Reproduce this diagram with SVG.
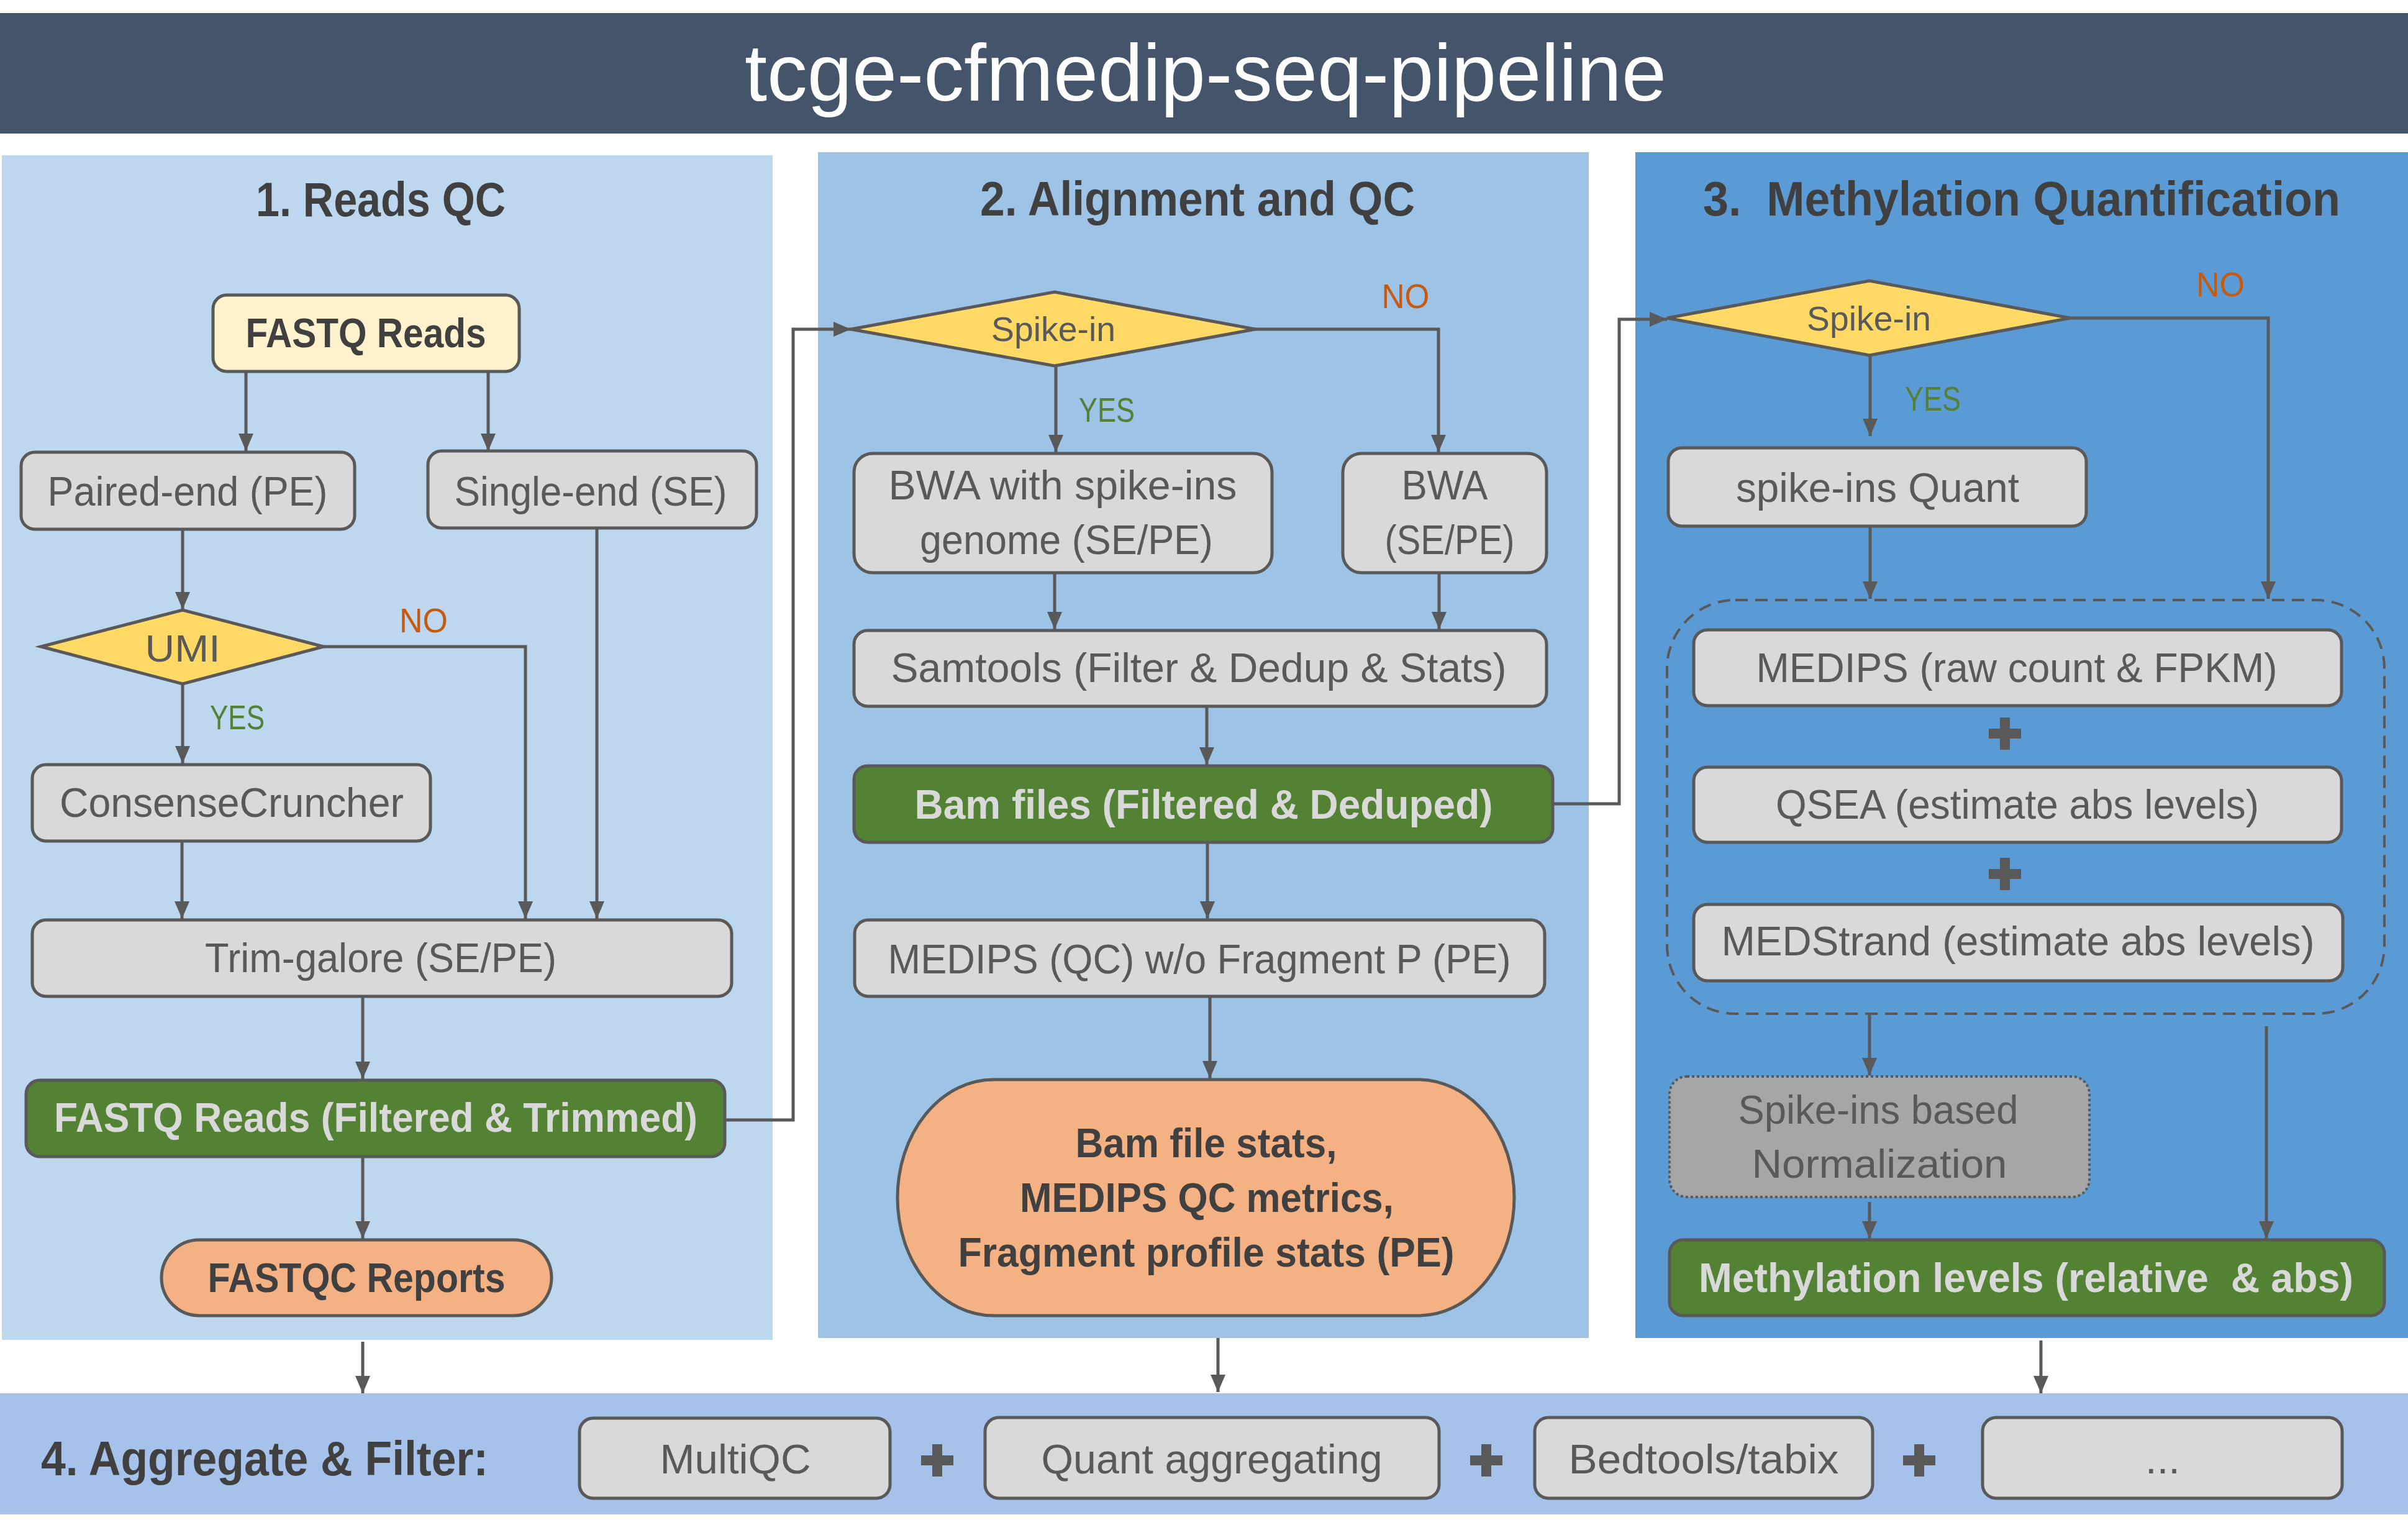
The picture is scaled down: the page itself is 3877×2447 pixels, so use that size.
<svg xmlns="http://www.w3.org/2000/svg" width="3877" height="2447" viewBox="0 0 3877 2447">
<style>
text{font-family:"Liberation Sans",Arial,sans-serif;text-anchor:middle}
.t{font-size:67px;fill:#595959}
.b{font-size:66px;font-weight:bold;fill:#404040}
.bl{font-size:66px;font-weight:bold;fill:#D9D9D9}
.h{font-size:78px;font-weight:bold;fill:#404040}
.no{font-size:56px;fill:#C55A11}
.yes{font-size:56px;fill:#538135}
.box{fill:#D9D9D9;stroke:#595959;stroke-width:5}
.grn{fill:#548235;stroke:#595959;stroke-width:5}
.org{fill:#F4B183;stroke:#595959;stroke-width:5}
.dia{fill:#FFD966;stroke:#595959;stroke-width:5}
.c{fill:none;stroke:#595959;stroke-width:5}
.plus{fill:#595959}
</style>
<defs>
<marker id="ah" markerUnits="userSpaceOnUse" markerWidth="28" markerHeight="24" refX="28" refY="12" orient="auto">
<path d="M0,0 L28,12 L0,24 z" fill="#595959"/>
</marker>
</defs>

<rect x="0" y="21" width="3877" height="194" fill="#44546A"/>
<text x="1941" y="162" style="font-size:130px;fill:#FFFFFF" textLength="1484" lengthAdjust="spacingAndGlyphs">tcge-cfmedip-seq-pipeline</text>

<g id="panels">
<rect x="3" y="250" width="1241" height="1907" fill="#BDD7EE"/>
<rect x="1317" y="245" width="1241" height="1909" fill="#9DC3E6"/>
<rect x="2633" y="245" width="1244" height="1909" fill="#5B9BD5"/>
<rect x="0" y="2243" width="3877" height="195" fill="#A6C2EB"/>
<text class="h" x="613" y="348" textLength="402" lengthAdjust="spacingAndGlyphs">1. Reads QC</text>
<text class="h" x="1928" y="347" textLength="700" lengthAdjust="spacingAndGlyphs">2. Alignment and QC</text>
<text class="h" x="3255" y="347" textLength="1026" lengthAdjust="spacingAndGlyphs" xml:space="preserve">3.  Methylation Quantification</text>
<text class="h" x="426" y="2375" textLength="720" lengthAdjust="spacingAndGlyphs">4. Aggregate &amp; Filter:</text>
</g>

<g id="connectors">
<path class="c" d="M396,598 V726" marker-end="url(#ah)"/>
<path class="c" d="M786,598 V726" marker-end="url(#ah)"/>
<path class="c" d="M294,852 V981" marker-end="url(#ah)"/>
<path class="c" d="M294,1101 V1229" marker-end="url(#ah)"/>
<path class="c" d="M521,1041 H846 V1479" marker-end="url(#ah)"/>
<path class="c" d="M961,850 V1479" marker-end="url(#ah)"/>
<path class="c" d="M293,1354 V1479" marker-end="url(#ah)"/>
<path class="c" d="M584,1604 V1737" marker-end="url(#ah)"/>
<path class="c" d="M584,1862 V1994" marker-end="url(#ah)"/>
<path class="c" d="M1167,1803 H1277 V530 H1370" marker-end="url(#ah)"/>
<path class="c" d="M584,2160 V2243" marker-end="url(#ah)"/>
<path class="c" d="M1700,589 V728" marker-end="url(#ah)"/>
<path class="c" d="M2021,530 H2316 V728" marker-end="url(#ah)"/>
<path class="c" d="M1698,922 V1013" marker-end="url(#ah)"/>
<path class="c" d="M2317,922 V1013" marker-end="url(#ah)"/>
<path class="c" d="M1943,1137 V1231" marker-end="url(#ah)"/>
<path class="c" d="M1944,1356 V1479" marker-end="url(#ah)"/>
<path class="c" d="M1948,1604 V1736" marker-end="url(#ah)"/>
<path class="c" d="M2500,1294 H2607 V514 H2684" marker-end="url(#ah)"/>
<path class="c" d="M1961,2154 V2241" marker-end="url(#ah)"/>
<path class="c" d="M3011,572 V702" marker-end="url(#ah)"/>
<path class="c" d="M3333,512 H3652 V964" marker-end="url(#ah)"/>
<path class="c" d="M3011,847 V964" marker-end="url(#ah)"/>
<path class="c" d="M3010,1632 V1731" marker-end="url(#ah)"/>
<path class="c" d="M3649,1652 V1994" marker-end="url(#ah)"/>
<path class="c" d="M3010,1935 V1994" marker-end="url(#ah)"/>
<path class="c" d="M3286,2158 V2243" marker-end="url(#ah)"/>
<text class="no" x="682" y="1018" textLength="78" lengthAdjust="spacingAndGlyphs">NO</text>
<text class="yes" x="382" y="1174" textLength="88" lengthAdjust="spacingAndGlyphs">YES</text>
<text class="no" x="2263" y="496" textLength="77" lengthAdjust="spacingAndGlyphs">NO</text>
<text class="yes" x="1782" y="679" textLength="90" lengthAdjust="spacingAndGlyphs">YES</text>
<text class="no" x="3575" y="477" textLength="78" lengthAdjust="spacingAndGlyphs">NO</text>
<text class="yes" x="3112" y="661" textLength="90" lengthAdjust="spacingAndGlyphs">YES</text>
</g>

<g id="fastq_reads">
<rect x="343" y="475" width="493" height="123" rx="22" fill="#FFF2CC" stroke="#595959" stroke-width="5"/>
<text class="b" x="589" y="559" textLength="387" lengthAdjust="spacingAndGlyphs">FASTQ Reads</text>
</g>
<g id="paired_end">
<rect class="box" x="34" y="728" width="537" height="124" rx="22"/>
<text class="t" x="302" y="814" textLength="451" lengthAdjust="spacingAndGlyphs">Paired-end (PE)</text>
</g>
<g id="single_end">
<rect class="box" x="689" y="726" width="529" height="124" rx="22"/>
<text class="t" x="951" y="814" textLength="439" lengthAdjust="spacingAndGlyphs">Single-end (SE)</text>
</g>
<g id="umi">
<polygon class="dia" points="66,1041 294,982 521,1041 294,1101"/>
<text class="t" x="294" y="1065" style="font-size:62px" textLength="121" lengthAdjust="spacingAndGlyphs">UMI</text>
</g>
<g id="consensecruncher">
<rect class="box" x="52" y="1231" width="641" height="123" rx="22"/>
<text class="t" x="373" y="1315" textLength="554" lengthAdjust="spacingAndGlyphs">ConsenseCruncher</text>
</g>
<g id="trim_galore">
<rect class="box" x="52" y="1481" width="1126" height="123" rx="22"/>
<text class="t" x="613" y="1565" textLength="566" lengthAdjust="spacingAndGlyphs">Trim-galore (SE/PE)</text>
</g>
<g id="fastq_filtered">
<rect class="grn" x="42" y="1739" width="1125" height="123" rx="22"/>
<text class="bl" x="605" y="1822" textLength="1036" lengthAdjust="spacingAndGlyphs">FASTQ Reads (Filtered &amp; Trimmed)</text>
</g>
<g id="fastqc_reports">
<rect class="org" x="260" y="1996" width="628" height="122" rx="61"/>
<text class="b" x="574" y="2080" textLength="479" lengthAdjust="spacingAndGlyphs">FASTQC Reports</text>
</g>

<g id="spike_in_2">
<polygon class="dia" points="1370,530 1698,470 2021,530 1698,589"/>
<text class="t" x="1696" y="549" style="font-size:56px" textLength="200" lengthAdjust="spacingAndGlyphs">Spike-in</text>
</g>
<g id="bwa_spike">
<rect class="box" x="1375" y="730" width="673" height="192" rx="30"/>
<text class="t" x="1711" y="804" textLength="561" lengthAdjust="spacingAndGlyphs">BWA with spike-ins</text>
<text class="t" x="1717" y="892" textLength="472" lengthAdjust="spacingAndGlyphs">genome (SE/PE)</text>
</g>
<g id="bwa">
<rect class="box" x="2162" y="730" width="328" height="192" rx="30"/>
<text class="t" x="2326" y="804" textLength="139" lengthAdjust="spacingAndGlyphs">BWA</text>
<text class="t" x="2334" y="892" textLength="209" lengthAdjust="spacingAndGlyphs">(SE/PE)</text>
</g>
<g id="samtools">
<rect class="box" x="1375" y="1015" width="1115" height="122" rx="22"/>
<text class="t" x="1930" y="1098" textLength="991" lengthAdjust="spacingAndGlyphs">Samtools (Filter &amp; Dedup &amp; Stats)</text>
</g>
<g id="bam_files">
<rect class="grn" x="1375" y="1233" width="1125" height="123" rx="22"/>
<text class="bl" x="1938" y="1318" textLength="931" lengthAdjust="spacingAndGlyphs">Bam files (Filtered &amp; Deduped)</text>
</g>
<g id="medips_qc">
<rect class="box" x="1376" y="1481" width="1111" height="123" rx="22"/>
<text class="t" x="1931" y="1567" textLength="1003" lengthAdjust="spacingAndGlyphs">MEDIPS (QC) w/o Fragment P (PE)</text>
</g>
<g id="bam_stats">
<rect class="org" x="1445" y="1738" width="993" height="380" rx="155" ry="190"/>
<text class="b" x="1942" y="1863" textLength="421" lengthAdjust="spacingAndGlyphs">Bam file stats,</text>
<text class="b" x="1943" y="1951" textLength="602" lengthAdjust="spacingAndGlyphs">MEDIPS QC metrics,</text>
<text class="b" x="1942" y="2039" textLength="799" lengthAdjust="spacingAndGlyphs">Fragment profile stats (PE)</text>
</g>

<g id="spike_in_3">
<polygon class="dia" points="2684,512 3010,452 3333,512 3010,572"/>
<text class="t" x="3009" y="532" style="font-size:56px" textLength="200" lengthAdjust="spacingAndGlyphs">Spike-in</text>
</g>
<g id="spike_quant">
<rect class="box" x="2686" y="721" width="673" height="126" rx="22"/>
<text class="t" x="3023" y="808" textLength="456" lengthAdjust="spacingAndGlyphs">spike-ins Quant</text>
</g>
<g id="quant_group">
<rect x="2684" y="966" width="1155" height="666" rx="110" fill="none" stroke="#595959" stroke-width="4" stroke-dasharray="20 12"/>
</g>
<g id="medips_raw">
<rect class="box" x="2727" y="1014" width="1043" height="122" rx="22"/>
<text class="t" x="3247" y="1098" textLength="839" lengthAdjust="spacingAndGlyphs">MEDIPS (raw count &amp; FPKM)</text>
</g>
<path class="plus" d="M3220,1155 h16 v18 h18 v16 h-18 v18 h-16 v-18 h-18 v-16 h18 z"/>
<g id="qsea">
<rect class="box" x="2727" y="1235" width="1043" height="121" rx="22"/>
<text class="t" x="3248" y="1318" textLength="778" lengthAdjust="spacingAndGlyphs">QSEA (estimate abs levels)</text>
</g>
<path class="plus" d="M3220,1381 h16 v18 h18 v16 h-18 v18 h-16 v-18 h-18 v-16 h18 z"/>
<g id="medstrand">
<rect class="box" x="2727" y="1456" width="1045" height="123" rx="22"/>
<text class="t" x="3249" y="1538" textLength="955" lengthAdjust="spacingAndGlyphs">MEDStrand (estimate abs levels)</text>
</g>
<g id="normalization">
<rect x="2688" y="1733" width="676" height="194" rx="28" fill="#A6A6A6" stroke="#595959" stroke-width="4" stroke-dasharray="4 4"/>
<text class="t" x="3024" y="1809" style="font-size:64px" textLength="451" lengthAdjust="spacingAndGlyphs">Spike-ins based</text>
<text class="t" x="3026" y="1896" style="font-size:64px" textLength="411" lengthAdjust="spacingAndGlyphs">Normalization</text>
</g>
<g id="methylation_levels">
<rect class="grn" x="2688" y="1996" width="1151" height="122" rx="22"/>
<text class="bl" x="3262" y="2080" textLength="1054" lengthAdjust="spacingAndGlyphs" xml:space="preserve">Methylation levels (relative  &amp; abs)</text>
</g>

<g id="multiqc">
<rect class="box" x="933" y="2283" width="500" height="129" rx="22"/>
<text class="t" x="1184" y="2372" textLength="243" lengthAdjust="spacingAndGlyphs">MultiQC</text>
</g>
<path class="plus" d="M1501,2325 h16 v18 h18 v16 h-18 v18 h-16 v-18 h-18 v-16 h18 z"/>
<g id="quant_aggregating">
<rect class="box" x="1586" y="2282" width="731" height="130" rx="22"/>
<text class="t" x="1951" y="2372" textLength="549" lengthAdjust="spacingAndGlyphs">Quant aggregating</text>
</g>
<path class="plus" d="M2385,2325 h16 v18 h18 v16 h-18 v18 h-16 v-18 h-18 v-16 h18 z"/>
<g id="bedtools">
<rect class="box" x="2471" y="2282" width="544" height="130" rx="22"/>
<text class="t" x="2743" y="2372" textLength="435" lengthAdjust="spacingAndGlyphs">Bedtools/tabix</text>
</g>
<path class="plus" d="M3082,2325 h16 v18 h18 v16 h-18 v18 h-16 v-18 h-18 v-16 h18 z"/>
<g id="more">
<rect class="box" x="3192" y="2282" width="579" height="130" rx="22"/>
<text class="t" x="3482" y="2372">...</text>
</g>
</svg>
